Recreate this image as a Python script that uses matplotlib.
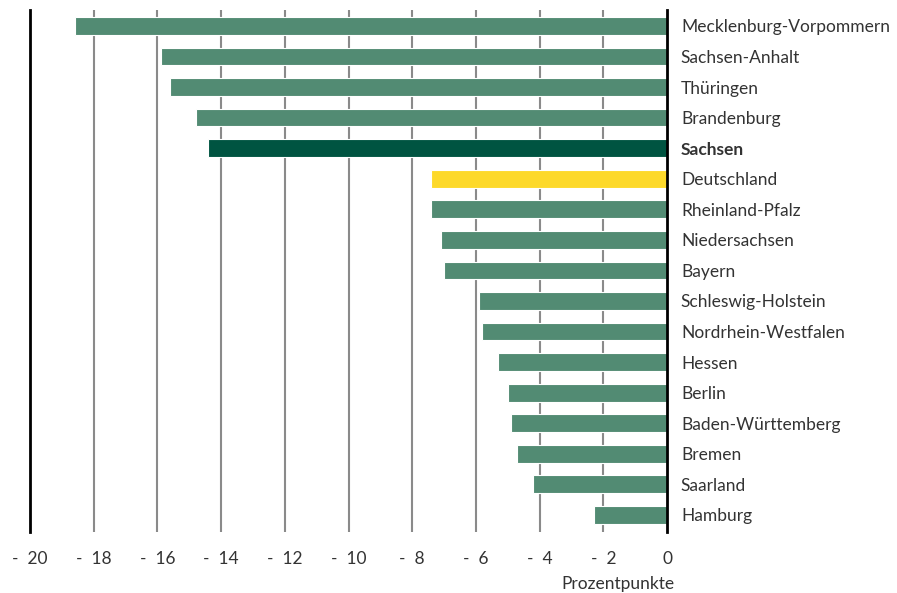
import matplotlib
matplotlib.use("Agg")
import matplotlib.pyplot as plt

plt.rcParams["font.family"] = ["Lato", "DejaVu Sans"]

regions = ["Mecklenburg-Vorpommern", "Sachsen-Anhalt", "Thüringen", "Brandenburg",
           "Sachsen", "Deutschland", "Rheinland-Pfalz", "Niedersachsen", "Bayern",
           "Schleswig-Holstein", "Nordrhein-Westfalen", "Hessen", "Berlin",
           "Baden-Württemberg", "Bremen", "Saarland", "Hamburg"]
values = [-18.6, -15.9, -15.6, -14.8, -14.4, -7.4, -7.4, -7.1, -7.0,
          -5.9, -5.8, -5.3, -5.0, -4.9, -4.7, -4.2, -2.3]
xticks = [-20, -18, -16, -14, -12, -10, -8, -6, -4, -2, 0]

GREEN = "#528b73"
DARK = "#005441"
YELLOW = "#fdd92a"
TEXT = "#333333"

colors = [DARK if r == "Sachsen" else YELLOW if r == "Deutschland" else GREEN
          for r in regions]

fig = plt.figure(figsize=(8.97, 5.93), dpi=100)
ax = fig.add_axes([30 / 897, 1 - 532 / 593, 637 / 897, 522 / 593])

ypos = list(range(len(regions)))
ax.barh(ypos, values, height=0.58, color=colors, edgecolor="white",
        linewidth=0.8, zorder=3)

ax.set_xlim(-20, 0)
ax.set_ylim(16.56, -0.52)

# vertical grid lines
for t in xticks[1:-1]:
    ax.axvline(t, color="#8a8a8a", lw=1.5, zorder=1)

for side in ["top", "bottom"]:
    ax.spines[side].set_visible(False)
ax.spines["left"].set_linewidth(2)
ax.spines["right"].set_linewidth(2)
ax.spines["left"].set_zorder(4)
ax.spines["right"].set_zorder(4)

ax.set_xticks(xticks)
ax.set_xticklabels([f"-  {abs(t)}" if t else "0" for t in xticks],
                   fontsize=12.5, color=TEXT)
ax.tick_params(axis="x", length=0, pad=14)

ax.yaxis.tick_right()
ax.set_yticks(ypos)
ax.set_yticklabels(regions, fontsize=12.5, color=TEXT)
ax.tick_params(axis="y", length=0, pad=10)
for lbl in ax.get_yticklabels():
    if lbl.get_text() == "Sachsen":
        lbl.set_fontweight("bold")

fig.text(618 / 897, 1 - 584 / 593, "Prozentpunkte", ha="center", va="center",
         fontsize=12.5, color=TEXT)

fig.savefig("out.png", dpi=100)
